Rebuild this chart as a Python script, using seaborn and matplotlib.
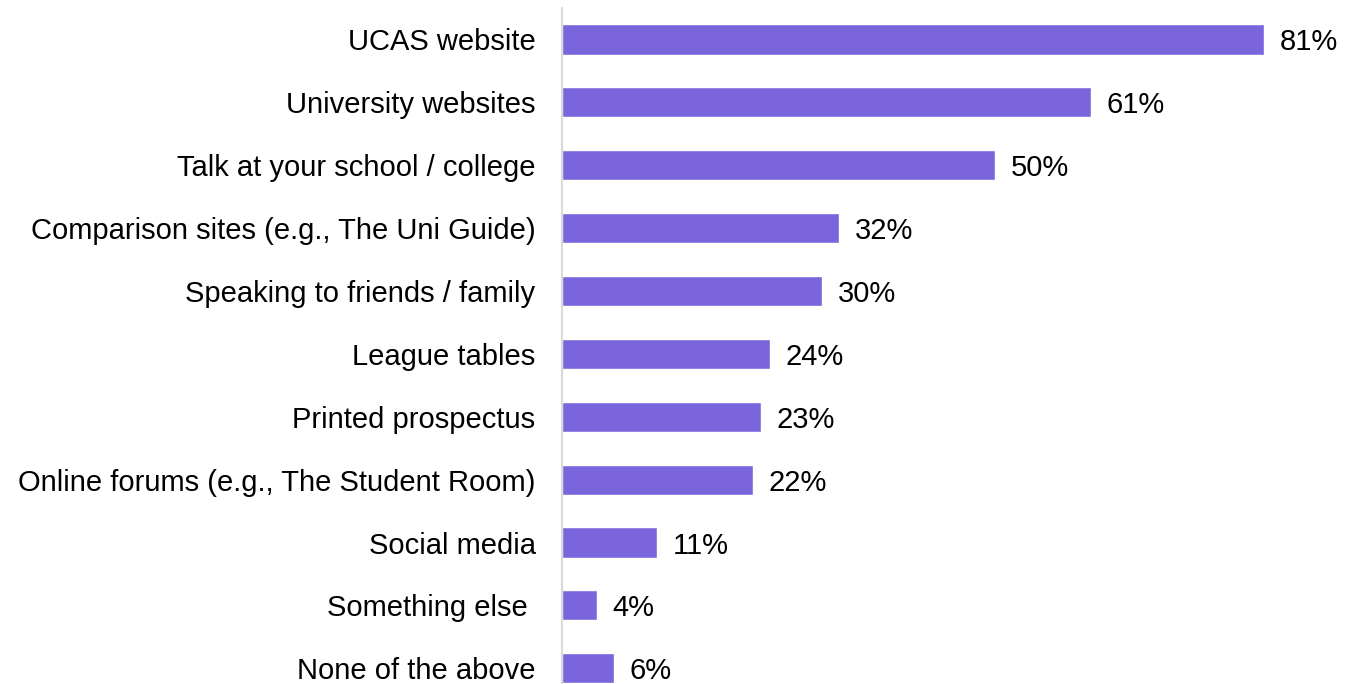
import matplotlib
matplotlib.use("Agg")
import matplotlib.pyplot as plt
import seaborn as sns
import pandas as pd

# survey answers, top to bottom
sources = [
    "UCAS website",
    "University websites",
    "Talk at your school / college",
    "Comparison sites (e.g., The Uni Guide)",
    "Speaking to friends / family",
    "League tables",
    "Printed prospectus",
    "Online forums (e.g., The Student Room)",
    "Social media",
    "Something else ",
    "None of the above",
]
percent = [81, 61, 50, 32, 30, 24, 23, 22, 11, 4, 6]

df = pd.DataFrame({"source": sources, "percent": percent})

sns.set_style("white")
plt.rcParams["font.family"] = ["Liberation Sans", "DejaVu Sans"]

fig = plt.figure(figsize=(13.61, 6.84), dpi=100)
ax = fig.add_axes([562 / 1361, 0, 1 - 562 / 1361, 1 - 8 / 684])

sns.barplot(data=df, x="percent", y="source", color="#7B65DC", saturation=1,
            width=0.48, ax=ax, orient="h")

for i, v in enumerate(percent):
    ax.text(v + 1.8, i, f"{v}%", va="center_baseline", ha="left",
            fontsize=21, color="black")

ax.set_xlim(0, 92.2)
ax.set_ylim(10.25, -0.5)
ax.set_xlabel("")
ax.set_ylabel("")
ax.set_xticks([])
ax.tick_params(axis="y", length=0, pad=19, labelsize=21, labelcolor="black")
for lbl in ax.get_yticklabels():
    lbl.set_verticalalignment("center_baseline")
for s in ["top", "right", "bottom"]:
    ax.spines[s].set_visible(False)
ax.spines["left"].set_color("#D9D9D9")
ax.spines["left"].set_linewidth(1.5)

fig.savefig("out.png", dpi=100)
